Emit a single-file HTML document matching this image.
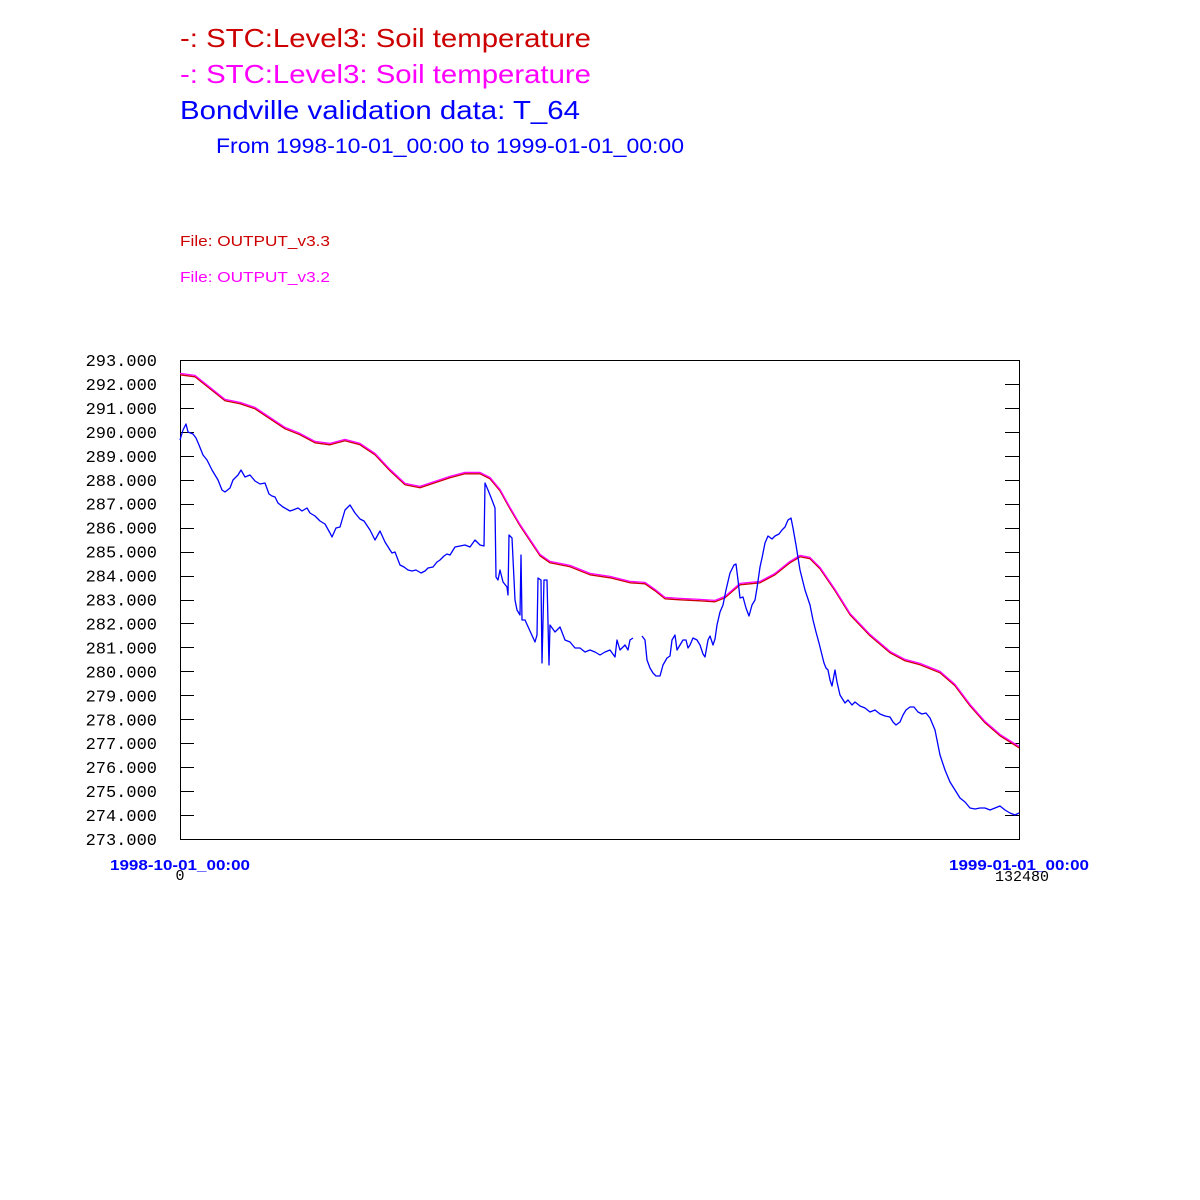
<!DOCTYPE html>
<html><head><meta charset="utf-8"><style>
body{margin:0;background:#fff;}
svg{display:block;}
</style></head><body>
<svg width="1200" height="1200" xmlns="http://www.w3.org/2000/svg" font-family="Liberation Sans, sans-serif">
<rect width="1200" height="1200" fill="#fff"/>
<text x="180" y="47" font-size="26" fill="#cc0000" textLength="411" lengthAdjust="spacingAndGlyphs">-:  STC:Level3: Soil temperature</text>
<text x="180" y="83" font-size="26" fill="#ff00ff" textLength="411" lengthAdjust="spacingAndGlyphs">-:  STC:Level3: Soil temperature</text>
<text x="180" y="119" font-size="26" fill="#0000ff" textLength="400" lengthAdjust="spacingAndGlyphs">Bondville validation data:  T_64</text>
<text x="216" y="153" font-size="21" fill="#0000ff" textLength="468" lengthAdjust="spacingAndGlyphs">From 1998-10-01_00:00 to 1999-01-01_00:00</text>
<text x="180" y="246" font-size="15" fill="#cc0000" textLength="150" lengthAdjust="spacingAndGlyphs">File: OUTPUT_v3.3</text>
<text x="180" y="282" font-size="15" fill="#ff00ff" textLength="150" lengthAdjust="spacingAndGlyphs">File: OUTPUT_v3.2</text>
<rect x="180.5" y="360.5" width="839" height="479" fill="none" stroke="#000" stroke-width="1"/>
<g id="ticks" stroke="#000" stroke-width="1"></g>
<g id="labels" font-family="Liberation Mono, monospace" font-size="17" fill="#000" text-anchor="end"></g>
<g fill="none" stroke-width="1.3" stroke-linejoin="round">
<polyline id="red" stroke="#cc0000" points=""/>
<polyline id="mag" stroke="#ff00ff" points=""/>
<polyline id="b1" stroke="#0000ff" points="180,440 183,430 186,424 188,432 193,434 196,438 199,445 203,455 207,460 212,470 218,480 222,490 225,492 230,488 233,480 238,475 241,470 245,477 250,475 255,481 260,484 265,483 269,494 272,496 275,497 278,503 283,507 290,511 293,510 298,508 302,511 307,508 310,513 315,516 320,521 325,524 330,533 332,537 336,528 340,527 345,510 350,505 355,513 360,519 364,521 370,530 375,540 380,531 385,542 390,550 392,553 395,552 400,565 404,567 408,570 412,571 416,570 421,573 425,571 428,568 433,567 437,562 440,560 444,556 447,554 450,555 455,547 460,546 465,545 470,547 475,540 480,545 484,546 485,483 488,490 492,500 495,508 496,577 498,580 500,570 503,582 507,587 508,595 509,535 512,538 515,600 517,610 520,615 521,555 522,620 525,620 530,631 535,642 537,635 538,578 541,580 542,663 544,580 547,580 549,665 550,625 555,632 560,627 565,640 570,642 575,648 580,648 585,652 590,650 595,652 600,655 605,652 610,650 615,657 617,640 620,650 625,645 628,650 630,640 633,638"/>
<polyline id="b2" stroke="#0000ff" points="642,636 645,640 647,660 650,668 653,673 656,676 660,676 663,665 667,658 670,656 672,640 675,635 677,650 680,645 683,640 686,640 688,648 690,645 693,638 697,640 700,645 703,654 705,657 708,640 710,636 713,645 715,639 717,625 720,612 723,605 726,590 730,573 734,565 736,564 738,580 740,598 743,597 746,608 749,616 752,605 755,600 757,588 760,567 762,558 765,543 768,536 772,539 775,536 779,534 782,530 785,527 788,520 791,518 793,528 796,545 800,570 805,590 810,605 813,620 816,632 819,643 822,655 824,663 826,668 828,670 830,680 832,686 835,670 837,682 840,695 845,703 848,700 852,705 855,702 860,706 865,708 870,712 875,710 880,714 885,716 890,717 893,722 896,725 900,722 903,715 906,710 910,707 914,707 918,712 922,714 926,713 930,718 935,730 940,755 945,770 950,782 955,790 960,798 965,802 970,808 975,809 980,808 985,808 990,810 995,808 1000,806 1005,810 1010,813 1015,815 1019,813"/>
</g>
<text x="110" y="870" font-size="15" font-weight="bold" fill="#0000ff" textLength="140" lengthAdjust="spacingAndGlyphs">1998-10-01_00:00</text>
<text x="180" y="880" font-family="Liberation Mono, monospace" font-size="15" fill="#000" text-anchor="middle">0</text>
<text x="949" y="870" font-size="15" font-weight="bold" fill="#0000ff" textLength="140" lengthAdjust="spacingAndGlyphs">1999-01-01_00:00</text>
<text x="1049" y="881" font-family="Liberation Mono, monospace" font-size="15" fill="#000" text-anchor="end">132480</text>
<script>
var ns="http://www.w3.org/2000/svg";
var t=document.getElementById("ticks"),l=document.getElementById("labels");
for(var i=0;i<=20;i++){var y=360+i*23.95;var yy=Math.round(y)+0.5;
if(i>0&&i<20){[[180,194],[1005,1019]].forEach(function(s){var e=document.createElementNS(ns,"line");e.setAttribute("x1",s[0]);e.setAttribute("x2",s[1]);e.setAttribute("y1",yy);e.setAttribute("y2",yy);t.appendChild(e);});}
var tx=document.createElementNS(ns,"text");tx.setAttribute("x",157);tx.setAttribute("y",y+6);tx.textContent=(293-i)+".000";l.appendChild(tx);}
var r=[[180,374],[195,376],[210,388],[225,400],[240,403],[255,408],[270,418],[285,428],[300,434],[315,442],[330,444],[345,440],[360,444],[375,454],[390,470],[405,484],[420,487],[435,482],[450,477],[465,473],[480,473],[490,478],[500,490],[510,508],[520,525],[530,540],[540,555],[550,562],[570,566],[590,574],[610,577],[630,582],[645,583],[655,590],[665,598],[680,599],[700,600],[715,601],[725,597],[740,584],[760,582],[775,574],[790,562],[800,556],[810,558],[820,568],[835,590],[850,614],[870,635],[890,652],[905,660],[920,664],[940,672],[955,685],[970,705],[985,722],[1000,735],[1019,747]];
document.getElementById("red").setAttribute("points",r.map(function(p){return p[0]+","+(p[1]+0.8)}).join(" "));
document.getElementById("mag").setAttribute("points",r.map(function(p){return p[0]+","+(p[1]-0.6)}).join(" "));
</script>
</svg>
</body></html>
